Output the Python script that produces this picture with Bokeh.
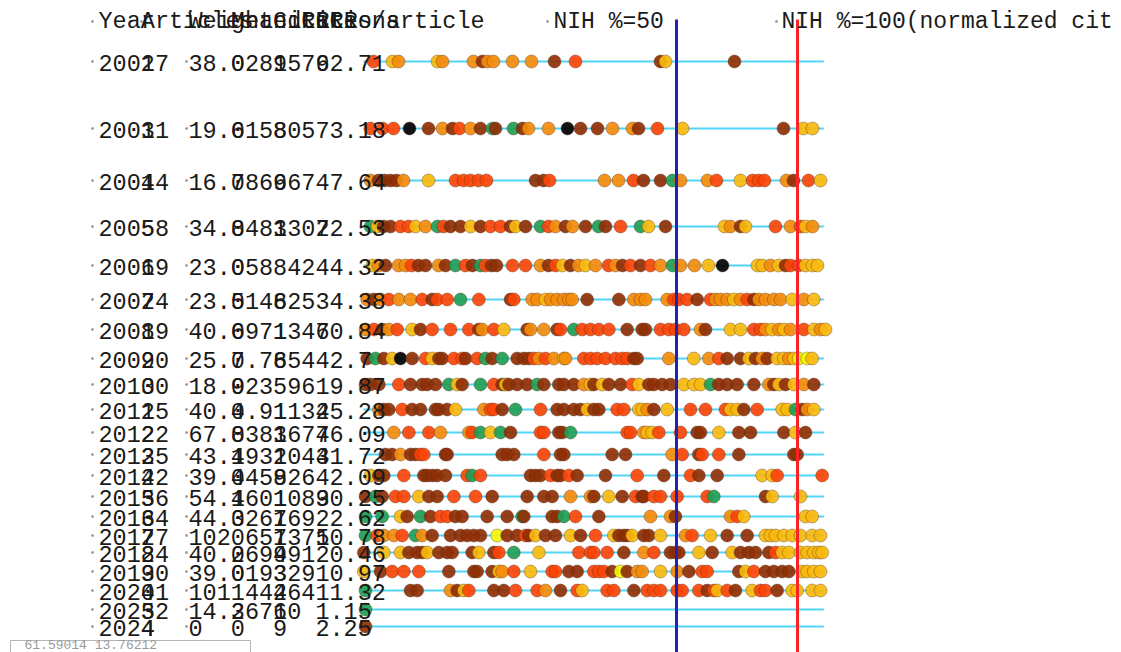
from bokeh.plotting import figure
from bokeh.models import Range1d, ColumnDataSource
from bokeh.embed import file_html
from bokeh.resources import INLINE
from bokeh.core.properties import value

# ---------------- data ----------------
years = ["2002", "2003", "2004", "2005", "2006", "2007", "2008", "2009", "2010", "2011",
         "2012", "2013", "2014", "2015", "2016", "2017", "2018", "2019", "2020", "2023", "2024"]
articles = ["17", "11", "14", "58", "19", "24", "19", "20", "30", "25",
            "22", "25", "22", "36", "34", "27", "24", "30", "41", "52", "4"]
weighted_rcr = ["38.0", "19.6", "16.7", "34.8", "23.0", "23.5", "40.6", "25.7", "18.9", "40.4",
                "67.8", "43.4", "39.4", "54.4", "44.3", "102", "40.2", "39.0", "101", "14.2", "0"]
mean_rcr = ["0289", "0158", "0869", "0483", "058", "0146", "0971", "0.76", "023", "0.91",
            "0383", "1932", "0458", "1601", "0261", "0657", "0699", "0193", "1442", "3671", "0"]
citations = ["1576", "805", "667", "1307", "842", "825", "1346", "854", "596", "1132",
             "1674", "1043", "926", "1089", "769", "1371", "491", "329", "464", "60", "9"]
cites_per_article = ["92.71", "73.18", "47.64", "22.53", "44.32", "34.38", "70.84", "42.7", "19.87", "45.28",
                     "76.09", "41.72", "42.09", "30.25", "22.62", "50.78", "20.46", "10.97", "11.32", "1.15", "2.25"]
headers = ["Year", "Articles", "Weighted RCR", "Mean RCR", "Citations", "Cites/article"]

# per-article scores (normalized citation scale) and category codes, one entry per year row
scores = {
    "2002": [39, 96, 114, 231, 246, 339, 366, 381, 399, 456, 513, 582, 645, 900, 915, 1122],
    "2003": [30, 66, 99, 147, 204, 246, 276, 297, 330, 360, 396, 405, 459, 486, 504, 564, 621, 660, 711, 756,
             816, 834, 891, 966, 1269, 1329, 1356],
    "2004": [30, 54, 72, 90, 108, 129, 204, 285, 309, 330, 354, 378, 525, 549, 567, 732, 774, 819, 849, 900,
             936, 960, 1041, 1068, 1140, 1176, 1194, 1212, 1278, 1299, 1344, 1380],
    "2005": [30, 51, 69, 90, 120, 144, 165, 195, 231, 249, 270, 300, 330, 360, 390, 420, 450, 465, 495, 540,
             564, 585, 615, 636, 675, 714, 735, 780, 840, 864, 915, 1092, 1110, 1140, 1155, 1245, 1290, 1320,
             1335, 1356],
    "2006": [36, 54, 75, 114, 135, 153, 174, 195, 234, 255, 285, 315, 336, 360, 375, 393, 408, 456, 495, 540,
             564, 585, 606, 630, 654, 675, 705, 744, 765, 786, 810, 840, 870, 900, 936, 960, 1002, 1044, 1086,
             1191, 1206, 1230, 1254, 1275, 1290, 1314, 1335, 1356, 1371],
    "2007": [20, 40, 60, 85, 115, 150, 185, 215, 230, 260, 300, 355, 450, 460, 515, 530, 555, 570, 590, 610,
             625, 635, 680, 775, 820, 840, 855, 920, 940, 955, 980, 1010, 1050, 1065, 1080, 1100, 1120, 1140,
             1160, 1180, 1195, 1215, 1240, 1260, 1295, 1330, 1360],
    "2008": [15, 40, 65, 85, 110, 155, 180, 215, 270, 325, 355, 365, 400, 430, 500, 510, 550, 590, 600, 640,
             665, 690, 715, 745, 800, 845, 855, 900, 925, 945, 970, 1020, 1035, 1110, 1140, 1180, 1200, 1215,
             1235, 1255, 1270, 1290, 1330, 1360, 1380, 1395],
    "2009": [20, 45, 70, 95, 120, 155, 195, 215, 235, 245, 280, 305, 315, 350, 375, 395, 425, 470, 490, 505,
             520, 535, 555, 580, 610, 615, 670, 690, 710, 735, 765, 785, 800, 820, 830, 925, 1000, 1045, 1075,
             1100, 1140, 1165, 1185, 1205, 1220, 1250, 1270, 1285, 1300, 1315, 1340, 1355],
    "2010": [15, 30, 55, 115, 150, 185, 200, 225, 265, 290, 305, 360, 400, 425, 435, 445, 470, 500, 530, 550,
             595, 610, 640, 670, 690, 700, 725, 745, 780, 815, 835, 865, 880, 905, 930, 970, 1000, 1020, 1050,
             1075, 1100, 1130, 1180, 1225, 1240, 1255, 1275, 1300, 1330, 1360],
    "2011": [55, 70, 85, 125, 155, 180, 225, 235, 260, 285, 370, 390, 400, 425, 465, 540, 590, 610, 640, 660,
             680, 700, 715, 770, 790, 835, 845, 860, 880, 920, 990, 1035, 1095, 1110, 1130, 1150, 1190, 1265,
             1280, 1305, 1325, 1340, 1360],
    "2012": [100, 145, 205, 240, 325, 335, 360, 390, 420, 450, 540, 550, 595, 605, 630, 800, 810, 850, 860,
             875, 895, 960, 1010, 1020, 1075, 1135, 1170, 1270, 1305, 1335],
    "2013": [75, 95, 120, 150, 165, 180, 190, 255, 260, 425, 440, 460, 550, 600, 610, 755, 795, 935, 965,
             1015, 1025, 1075, 1135, 1300, 1310],
    "2014": [30, 55, 70, 130, 190, 200, 215, 230, 255, 320, 335, 360, 510, 525, 540, 570, 590, 600, 625, 650,
             735, 830, 910, 990, 1015, 1070, 1205, 1235, 1250, 1385],
    "2015": [15, 45, 65, 105, 130, 175, 205, 230, 280, 345, 395, 500, 550, 575, 630, 690, 700, 745, 785, 825,
             845, 850, 880, 900, 950, 1040, 1060, 1215, 1235, 1320],
    "2016": [15, 65, 120, 140, 180, 210, 240, 260, 285, 305, 380, 440, 485, 490, 575, 590, 610, 645, 715, 870,
             930, 945, 1110, 1130, 1150, 1335, 1355],
    "2017": [15, 50, 70, 100, 125, 165, 185, 215, 270, 300, 320, 340, 360, 410, 440, 470, 495, 505, 525, 555,
             585, 630, 660, 705, 760, 775, 790, 800, 815, 850, 865, 900, 975, 995, 1050, 1100, 1160, 1215, 1230,
             1245, 1270, 1295, 1320, 1355, 1380],
    "2018": [10, 70, 120, 145, 170, 185, 200, 235, 260, 275, 335, 355, 400, 415, 460, 535, 655, 690, 700, 740,
             790, 850, 880, 930, 945, 955, 1015, 1055, 1115, 1140, 1165, 1185, 1225, 1245, 1265, 1285, 1320,
             1340, 1360, 1375, 1385],
    "2019": [10, 60, 95, 130, 175, 265, 340, 350, 395, 415, 425, 460, 510, 575, 585, 625, 650, 700, 715, 730,
             755, 780, 800, 830, 845, 900, 950, 985, 1025, 1040, 1135, 1155, 1180, 1215, 1240, 1265, 1285, 1325,
             1340, 1360, 1380],
    "2020": [15, 150, 170, 270, 290, 310, 325, 400, 430, 465, 530, 555, 600, 650, 665, 740, 760, 820, 860, 880,
             900, 950, 965, 1015, 1040, 1060, 1070, 1100, 1125, 1175, 1200, 1215, 1250, 1295, 1310, 1355, 1380],
    "2023": [15],
    "2024": [15],
}
# B = brown, R = red-orange, O = orange, G = gold, N = green, K = black, Y = yellow
groups = {
    "2002": "RGOGOOBOOOOBRBGB",
    "2003": "RRRKBOBROBNBNBOOKBBOOBRGBGG",
    "2004": "OBBBBOGRRRRRBBROORBBNOORGRRROBRG",
    "2005": "NGBBRRGONRBBGBRRBGBNROBOBNBRNGBGOBGRORGO",
    "2006": "GOBOORBBOBNRBNRBBRROBRGBOGOROBRBRONOOGKGGOGBRRGGG",
    "2007": "OBOROORBRRNRBROOGOOOOOBBOOOORRRBROOOGORBOOOOGOG",
    "2008": "ORBORGBRRRBORGBOOBRNRRRRBBBRRRROBGGRROGOGORGOG",
    "2009": "BNBGKBRGBBRRBRNBNBBBROROGORRRRRRRBBOGORBBGBOBGGOGYYG",
    "2010": "BBBRBBBBNGBNRBGBBBNBBBBOGBGBBRGBBBBGGGNBBBBOBGBGOB",
    "2011": "OBBRBBBBBGORRBNRBBBBGBBRRGGOBGRRRGGBRGGNBOG",
    "2012": "ORROORNGNBRRBBNRROGGRRBBGBBBGB",
    "2013": "BBOBBRRBBBBBRBBBBORBRRBBB",
    "2014": "GBBRBBBBBRNRBBBRBBRBBRBRBBGGRR",
    "2015": "BNBRRGBBRRBBBBOOBGBRBBRRRRNBGG",
    "2016": "NNGBNBRRBBBBNBBBNRBOOBORGGG",
    "2017": "NROORNOBBBBBBYBBRBGBBGBRGBBBGBBGORGBBGGGGGGGG",
    "2018": "BGGBBBGBBBBGBRNGRRRRBORBBBGBGBBBBRGGGGGGG",
    "2019": "GBRRRBBBBGORGRRBBRRRBYBOOGOBRRBGRBBBBGGGG",
    "2020": "NBBOBGRBBRROBRGRRBRRRRRRBRGRBGRRBGGGG",
    "2023": "N",
    "2024": "B",
}
group_colors = {"B": "#8f2f05", "R": "#fb4408", "O": "#f38b0b", "G": "#f8b80d",
                "N": "#1f9e55", "K": "#000000", "Y": "#f4f40a"}

nih50_score = 948
nih100_score = 1311
line_start_score, line_end_score = 9, 1390

# ---------------- layout (page pixel positions) ----------------
row_y = [61, 128, 180, 226, 265, 299, 329, 358, 384, 409, 432, 454, 475, 496, 516, 535, 552, 571, 590, 609, 626]
pitch = 14.1
x_year = 98
x_art = x_year + 3 * pitch
x_c3 = 188
x_c4 = x_c3 + 3 * pitch
x_c5 = x_c4 + 3 * pitch
x_c6 = x_c5 + 3 * pitch
header_y = 21
font = value("Liberation Mono")
fsize = "23.5px"

W, H = 1121, 652
p = figure(width=W, height=H, output_backend="svg", toolbar_location=None,
           x_range=Range1d(0, W), y_range=Range1d(H, 0),
           x_axis_location=None, y_axis_location=None, min_border=0)
p.extra_x_ranges = {"score": Range1d((0 - 360) * 3, (W - 360) * 3)}
p.xgrid.visible = False
p.ygrid.visible = False
p.outline_line_color = None
p.background_fill_color = "white"

# cyan baselines
p.segment(x0=[line_start_score] * len(years), x1=[line_end_score] * len(years), y0=row_y, y1=row_y,
          x_range_name="score", line_color="#52d6f7", line_width=2)

# article dots
xs, ys, cs = [], [], []
for yr, yy in zip(years, row_y):
    for s, g in zip(scores[yr], groups[yr]):
        xs.append(s)
        ys.append(yy)
        cs.append(group_colors[g])
dots = ColumnDataSource(dict(x=xs, y=ys, c=cs))
p.scatter("x", "y", source=dots, x_range_name="score", size=13, fill_color="c", fill_alpha=0.92,
          line_color="#4a2a10", line_alpha=0.35, line_width=1)

# NIH reference lines
p.segment(x0=[nih50_score], x1=[nih50_score], y0=[19], y1=[H], x_range_name="score",
          line_color="#2121b5", line_width=3)
p.segment(x0=[nih100_score], x1=[nih100_score], y0=[19], y1=[H], x_range_name="score",
          line_color="#fb2424", line_width=3)

def txt(x, y, t, color="#1a1a1a", size=fsize):
    p.text(x=x, y=y, text=t, text_font=font, text_font_size=size, text_color=color,
           text_align="left", text_baseline="middle")

# header
hx = [x_year, x_art, x_c3, x_c4, x_c5, x_c6 - pitch]
txt(hx, [header_y] * 6, headers)
txt([553, 781], [header_y] * 2, ["NIH %=50", "NIH %=100(normalized cit"], size="23px")

# table rows
ty = [y + 1 for y in row_y]
cx = [x_year, x_art, x_c3, x_c4, x_c5, x_c6]
for x, col in zip(cx, [years, articles, weighted_rcr, mean_rcr, citations, cites_per_article]):
    txt([x] * len(col), ty, col)

# small anchor dots
ax = [92] * len(row_y) + [186] * len(row_y) + [92, 141, 547, 776]
ay = row_y + row_y + [21, 21, 21, 21]
p.scatter(ax, ay, size=2, color="#9a9a9a")

# coordinate readout box at the bottom
p.quad(left=[10], right=[250], top=[640], bottom=[H + 10], fill_color="white",
       line_color="#b5b5b5", line_width=1)
txt([24], [645], ["61.59014 13.76212"], color="#9a9a9a", size="13px")

open("out.html", "w").write(file_html(p, INLINE))
